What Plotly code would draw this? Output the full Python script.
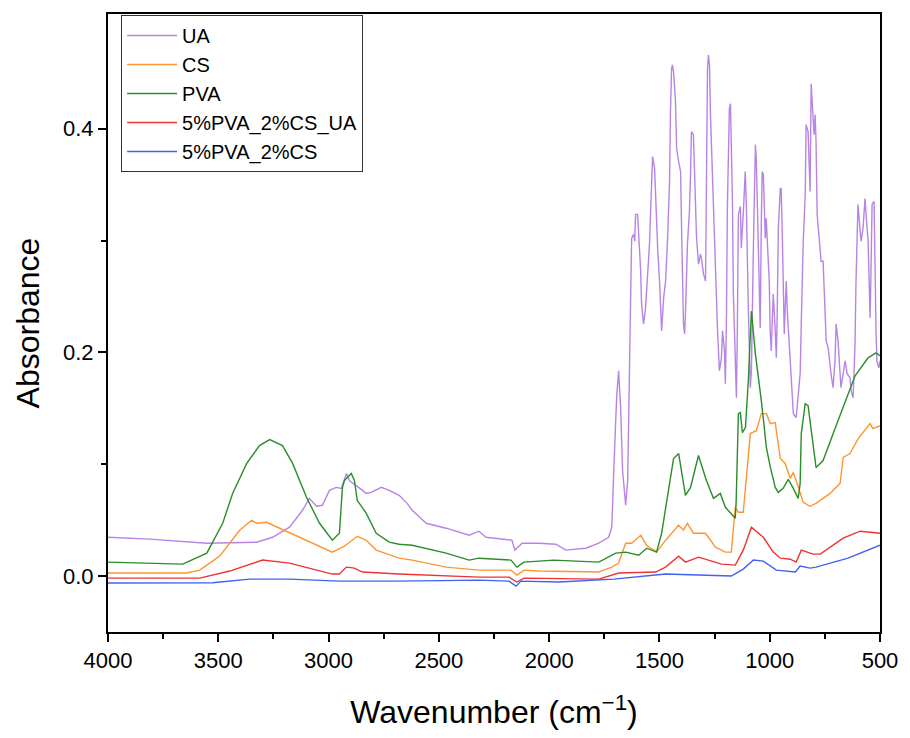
import plotly.graph_objects as go

# ---------------- data ----------------
ua_wn = [4000, 3810, 3552, 3326, 3254, 3177, 3118, 3087, 3055, 3028, 2996, 2965, 2942, 2919, 2906, 2892,
         2870, 2829, 2807, 2761, 2725, 2680, 2644, 2621, 2557, 2467, 2408, 2363, 2318, 2286, 2169, 2155,
         2123, 2046, 1970, 1924, 1834, 1775, 1730, 1716, 1707, 1698, 1694, 1685, 1676, 1667, 1653, 1644,
         1640, 1631, 1626, 1617, 1612, 1608, 1599, 1594, 1585, 1581, 1572, 1563, 1554, 1545, 1540, 1531,
         1522, 1517, 1508, 1499, 1490, 1481, 1472, 1463, 1454, 1450, 1445, 1441, 1436, 1427, 1422, 1413,
         1404, 1400, 1395, 1391, 1386, 1382, 1373, 1364, 1359, 1355, 1346, 1337, 1332, 1323, 1314, 1310,
         1300, 1291, 1287, 1282, 1278, 1273, 1269, 1260, 1251, 1242, 1237, 1228, 1219, 1214, 1205, 1201,
         1196, 1192, 1183, 1178, 1174, 1169, 1165, 1156, 1151, 1147, 1142, 1133, 1129, 1120, 1111, 1106,
         1102, 1097, 1088, 1083, 1074, 1065, 1061, 1056, 1052, 1043, 1038, 1034, 1029, 1025, 1020, 1016,
         1011, 1002, 998, 993, 988, 984, 975, 970, 966, 961, 952, 948, 943, 939, 934, 930,
         925, 921, 907, 898, 893, 880, 862, 857, 848, 839, 835, 826, 817, 812, 808, 799,
         794, 790, 785, 776, 767, 758, 749, 744, 735, 726, 722, 713, 704, 699, 690, 681,
         677, 667, 658, 649, 636, 631, 622, 618, 613, 609, 600, 591, 586, 577, 568, 563,
         554, 550, 545, 541, 536, 527, 523, 518, 514, 505, 500]
ua_abs = [0.0347, 0.0330, 0.0294, 0.0303, 0.0347, 0.0437, 0.0588, 0.0695, 0.0624, 0.0633, 0.0766, 0.0793, 0.0784, 0.0918, 0.0855, 0.0837,
          0.0802, 0.0739, 0.0748, 0.0793, 0.0766, 0.0722, 0.0650, 0.0588, 0.0472, 0.0428, 0.0392, 0.0365, 0.0401, 0.0347, 0.0321, 0.0232,
          0.0294, 0.0294, 0.0285, 0.0232, 0.0249, 0.0294, 0.0347, 0.0437, 0.0944, 0.1390, 0.1595, 0.1835, 0.1506, 0.0944, 0.0633, 0.0855,
          0.1506, 0.2432, 0.3020, 0.3056, 0.2993, 0.3234, 0.3234, 0.3056, 0.2726, 0.2432, 0.2254, 0.2396, 0.2637, 0.2967, 0.3261, 0.3751,
          0.3644, 0.3376, 0.2931, 0.2610, 0.2192, 0.2486, 0.2637, 0.3020, 0.3528, 0.4151, 0.4535, 0.4570, 0.4508, 0.4241, 0.3822, 0.3706,
          0.3617, 0.3145, 0.2548, 0.2254, 0.2165, 0.2343, 0.2967, 0.3261, 0.3590, 0.3973, 0.3947, 0.3216, 0.3038, 0.2788, 0.2878, 0.2842,
          0.2699, 0.2637, 0.3590, 0.4535, 0.4659, 0.4570, 0.4151, 0.3590, 0.2993, 0.2548, 0.2218, 0.1835, 0.1951, 0.2192, 0.2013, 0.1719,
          0.2343, 0.3287, 0.4178, 0.4223, 0.3884, 0.3350, 0.2548, 0.1987, 0.1595, 0.2165, 0.3234, 0.3305, 0.2931, 0.3234, 0.3617, 0.3323,
          0.2842, 0.2396, 0.1684, 0.1835, 0.2931, 0.3857, 0.3733, 0.3287, 0.2878, 0.2218, 0.3171, 0.3617, 0.3590, 0.3234, 0.3020, 0.3198,
          0.2993, 0.2637, 0.2192, 0.2013, 0.2307, 0.2521, 0.2192, 0.1951, 0.2343, 0.3109, 0.3466, 0.3466, 0.3056, 0.2548, 0.2165, 0.2396,
          0.2637, 0.2396, 0.1951, 0.1568, 0.1452, 0.1416, 0.1809, 0.2254, 0.2993, 0.3412, 0.4036, 0.3973, 0.3439, 0.4401, 0.4214, 0.3946,
          0.4125, 0.3884, 0.3234, 0.2993, 0.2815, 0.2815, 0.2254, 0.2102, 0.2040, 0.1835, 0.1809, 0.1684, 0.1924, 0.2254, 0.2102, 0.1809,
          0.1684, 0.1809, 0.1924, 0.1809, 0.1773, 0.1657, 0.1595, 0.1809, 0.2102, 0.2610, 0.3323, 0.3109, 0.2993, 0.3109, 0.3376, 0.3234,
          0.2993, 0.2699, 0.2307, 0.2699, 0.3323, 0.3350, 0.2699, 0.2192, 0.1924, 0.1862, 0.1924]

cs_wn = [4000, 3643, 3584, 3494, 3403, 3349, 3326, 3281, 3132, 2983, 2928, 2870, 2829, 2784, 2680, 2621,
         2467, 2318, 2173, 2146, 2114, 2046, 1775, 1716, 1685, 1653, 1626, 1585, 1558, 1513, 1472, 1413,
         1391, 1373, 1346, 1291, 1246, 1201, 1174, 1156, 1142, 1120, 1088, 1061, 1038, 1015, 997, 975,
         952, 930, 907, 893, 880, 848, 817, 790, 726, 681, 667, 636, 599, 545, 532, 500]
cs_abs = [0.0027, 0.0027, 0.0053, 0.0178, 0.0410, 0.0499, 0.0472, 0.0481, 0.0347, 0.0214, 0.0267, 0.0356, 0.0320, 0.0232, 0.0160, 0.0143,
          0.0080, 0.0053, 0.0053, 0.0009, 0.0053, 0.0045, 0.0036, 0.0080, 0.0116, 0.0294, 0.0294, 0.0365, 0.0276, 0.0214, 0.0321, 0.0454,
          0.0410, 0.0472, 0.0383, 0.0383, 0.0258, 0.0214, 0.0214, 0.0615, 0.0570, 0.0570, 0.1274, 0.1300, 0.1452, 0.1452, 0.1363, 0.1372,
          0.1051, 0.1007, 0.0873, 0.0927, 0.0855, 0.0659, 0.0624, 0.0650, 0.0739, 0.0829, 0.1060, 0.1096, 0.1229, 0.1363, 0.1318, 0.1345]

pva_wn = [4000, 3661, 3552, 3480, 3435, 3371, 3313, 3267, 3209, 3163, 3100, 3041, 2983, 2951, 2937, 2928,
          2897, 2883, 2870, 2829, 2784, 2725, 2680, 2621, 2467, 2363, 2318, 2173, 2146, 2114, 1979, 1775,
          1698, 1653, 1594, 1558, 1513, 1490, 1459, 1436, 1413, 1391, 1382, 1359, 1323, 1287, 1255, 1224,
          1201, 1156, 1152, 1142, 1133, 1124, 1110, 1097, 1083, 1065, 1038, 1015, 997, 975, 961, 939,
          916, 893, 871, 862, 857, 839, 826, 790, 758, 690, 613, 554, 518, 500]
pva_abs = [0.0125, 0.0107, 0.0205, 0.0472, 0.0739, 0.1007, 0.1167, 0.1220, 0.1167, 0.1007, 0.0704, 0.0472, 0.0321, 0.0383, 0.0793, 0.0855,
           0.0918, 0.0855, 0.0677, 0.0561, 0.0383, 0.0303, 0.0285, 0.0276, 0.0205, 0.0143, 0.0160, 0.0143, 0.0080, 0.0125, 0.0143, 0.0125,
           0.0205, 0.0214, 0.0187, 0.0249, 0.0214, 0.0383, 0.0766, 0.1051, 0.1096, 0.0855, 0.0722, 0.0793, 0.1078, 0.0855, 0.0695, 0.0739,
           0.0615, 0.0517, 0.0677, 0.1452, 0.1461, 0.1283, 0.1327, 0.1746, 0.2370, 0.1987, 0.1568, 0.1149, 0.0971, 0.0793, 0.0748, 0.0784,
           0.0864, 0.0784, 0.0695, 0.0829, 0.1274, 0.1541, 0.1523, 0.0971, 0.1033, 0.1390, 0.1790, 0.1951, 0.1996, 0.1969]

mix_ua_wn = [4000, 3584, 3448, 3299, 3177, 2983, 2951, 2919, 2883, 2847, 2680, 2318, 2182, 2146, 2114, 1775,
             1685, 1517, 1472, 1413, 1382, 1323, 1278, 1219, 1156, 1120, 1083, 1029, 984, 952, 907, 880,
             857, 803, 771, 667, 590, 500]
mix_ua_abs = [-0.0018, -0.0018, 0.0045, 0.0143, 0.0116, 0.0018, 0.0018, 0.0080, 0.0071, 0.0036, 0.0018, -0.0009, -0.0009, -0.0053, -0.0018, -0.0027,
              0.0027, 0.0036, 0.0080, 0.0178, 0.0125, 0.0169, 0.0143, 0.0107, 0.0098, 0.0232, 0.0437, 0.0347, 0.0214, 0.0160, 0.0151, 0.0125,
              0.0232, 0.0196, 0.0196, 0.0339, 0.0401, 0.0383]

mix_wn = [4000, 3525, 3358, 3177, 2951, 2680, 2318, 2182, 2150, 2128, 1956, 1775, 1707, 1472, 1174, 1120,
          1074, 1029, 970, 884, 862, 817, 790, 645, 500]
mix_abs = [-0.0062, -0.0060, -0.0027, -0.0027, -0.0045, -0.0045, -0.0036, -0.0045, -0.0090, -0.0045, -0.0053, -0.0036, -0.0027, 0.0018, 0.0000, 0.0062,
           0.0143, 0.0134, 0.0053, 0.0036, 0.0089, 0.0071, 0.0080, 0.0160, 0.0276]

series_names = ["UA", "CS", "PVA", "5%PVA_2%CS_UA", "5%PVA_2%CS"]
series_colors = ["#b784e6", "#ff9532", "#2a8c2a", "#f03232", "#3f62f2"]

x_ticks = [4000, 3500, 3000, 2500, 2000, 1500, 1000, 500]
x_minor = [3750, 3250, 2750, 2250, 1750, 1250, 750]
y_ticks = [0.0, 0.2, 0.4]
y_tick_text = ["0.0", "0.2", "0.4"]
y_minor = [0.1, 0.3]

# ---------------- figure ----------------
# the page body adds an 8px margin, so the figure is sized 894x722 to fill the 910x738 window
FONT = "Liberation Sans, Arial, sans-serif"
fig = go.Figure()
all_series = [(ua_wn, ua_abs), (cs_wn, cs_abs), (pva_wn, pva_abs), (mix_ua_wn, mix_ua_abs), (mix_wn, mix_abs)]
for (xs, ys), name, col in zip(all_series, series_names, series_colors):
    fig.add_trace(go.Scatter(x=xs, y=ys, mode="lines", name=name,
                             line=dict(color=col, width=1.4)))

fig.update_layout(
    width=894, height=722,
    margin=dict(l=100, r=20, t=4, b=98),
    paper_bgcolor="white", plot_bgcolor="white",
    font=dict(family=FONT, color="black"),
    showlegend=True,
    legend=dict(x=0.017, y=0.9985, xanchor="left", yanchor="top",
                bgcolor="white", bordercolor="#333333", borderwidth=1,
                font=dict(family=FONT, size=20, color="black"),
                tracegroupgap=0, itemwidth=50),
)
fig.update_xaxes(
    range=[4000, 500], tickvals=x_ticks, ticktext=[str(v) for v in x_ticks],
    showgrid=False, zeroline=False,
    showline=True, linecolor="black", linewidth=2, mirror=True,
    ticks="outside", ticklen=8, tickwidth=2, tickcolor="black",
    minor=dict(tickvals=x_minor, ticks="outside",
               ticklen=5, tickwidth=1.5, tickcolor="black"),
    tickfont=dict(family=FONT, size=22, color="black"),
    title=dict(text="Wavenumber (cm<sup>−1</sup>)", font=dict(family=FONT, size=32, color="black"), standoff=30),
)
fig.update_yaxes(
    range=[-0.05, 0.5025], tickvals=y_ticks, ticktext=y_tick_text,
    showgrid=False, zeroline=False,
    showline=True, linecolor="black", linewidth=2, mirror=True,
    ticks="outside", ticklen=8, tickwidth=2, tickcolor="black",
    minor=dict(tickvals=y_minor, ticks="outside", ticklen=5, tickwidth=1.5, tickcolor="black"),
    tickfont=dict(family=FONT, size=22, color="black"),
    title=dict(text="Absorbance", font=dict(family=FONT, size=32, color="black"), standoff=14),
)

fig.write_html("out.html")
